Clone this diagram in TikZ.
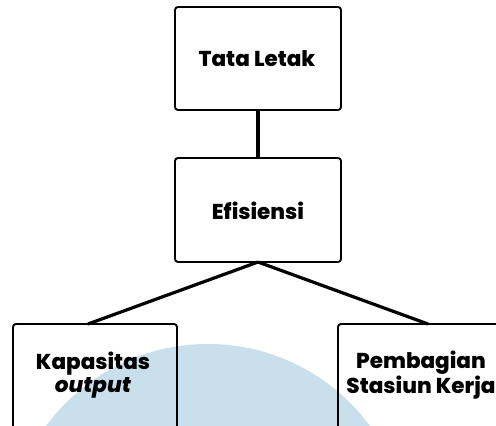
\documentclass[tikz,border=0pt]{standalone}
\usepackage{fontspec}
\setmainfont{Poppins}[BoldFont={* ExtraBold},BoldItalicFont={* ExtraBold Italic}]
\definecolor{wmblue}{RGB}{201,223,236}
\tikzset{
  box/.style={draw=black, line width=1.9pt, rounded corners=3pt, fill=none},
  lbl/.style={font=\bfseries\fontsize{21.5}{23}\selectfont, align=center, inner sep=0pt},
  conn/.style={line width=3.2pt, black}
}
\begin{document}
\begin{tikzpicture}[x=1pt,y=-1pt]
\useasboundingbox (0,0) rectangle (496,426);
\clip (0,0) rectangle (496,426);
% watermark
\fill[wmblue] (208,545) circle (201);
% boxes
\draw[box] (175,7) rectangle (341,110);
\draw[box] (175,158) rectangle (341,262);
\draw[box] (13,324) rectangle (177,440);
\draw[box] (338,324) rectangle (504,440);
\node[lbl] (tl) at (257,59) {Tata Letak};
\node[lbl] (ef) at (258,211) {Efisiensi};
\node[lbl] (kp) at (93,375) {Kapasitas\\\textit{output}};
\node[lbl] (pb) at (421,375) {Pembagian\\Stasiun Kerja};
\coordinate (tb) at (258,110);
\coordinate (et) at (258,158);
\coordinate (eb) at (258,262);
\coordinate (lt) at (88,324);
\coordinate (rt) at (428,324);
\draw[conn] (tb) -- (et);
\draw[conn] (eb) -- (lt);
\draw[conn] (eb) -- (rt);
\end{tikzpicture}
\end{document}
